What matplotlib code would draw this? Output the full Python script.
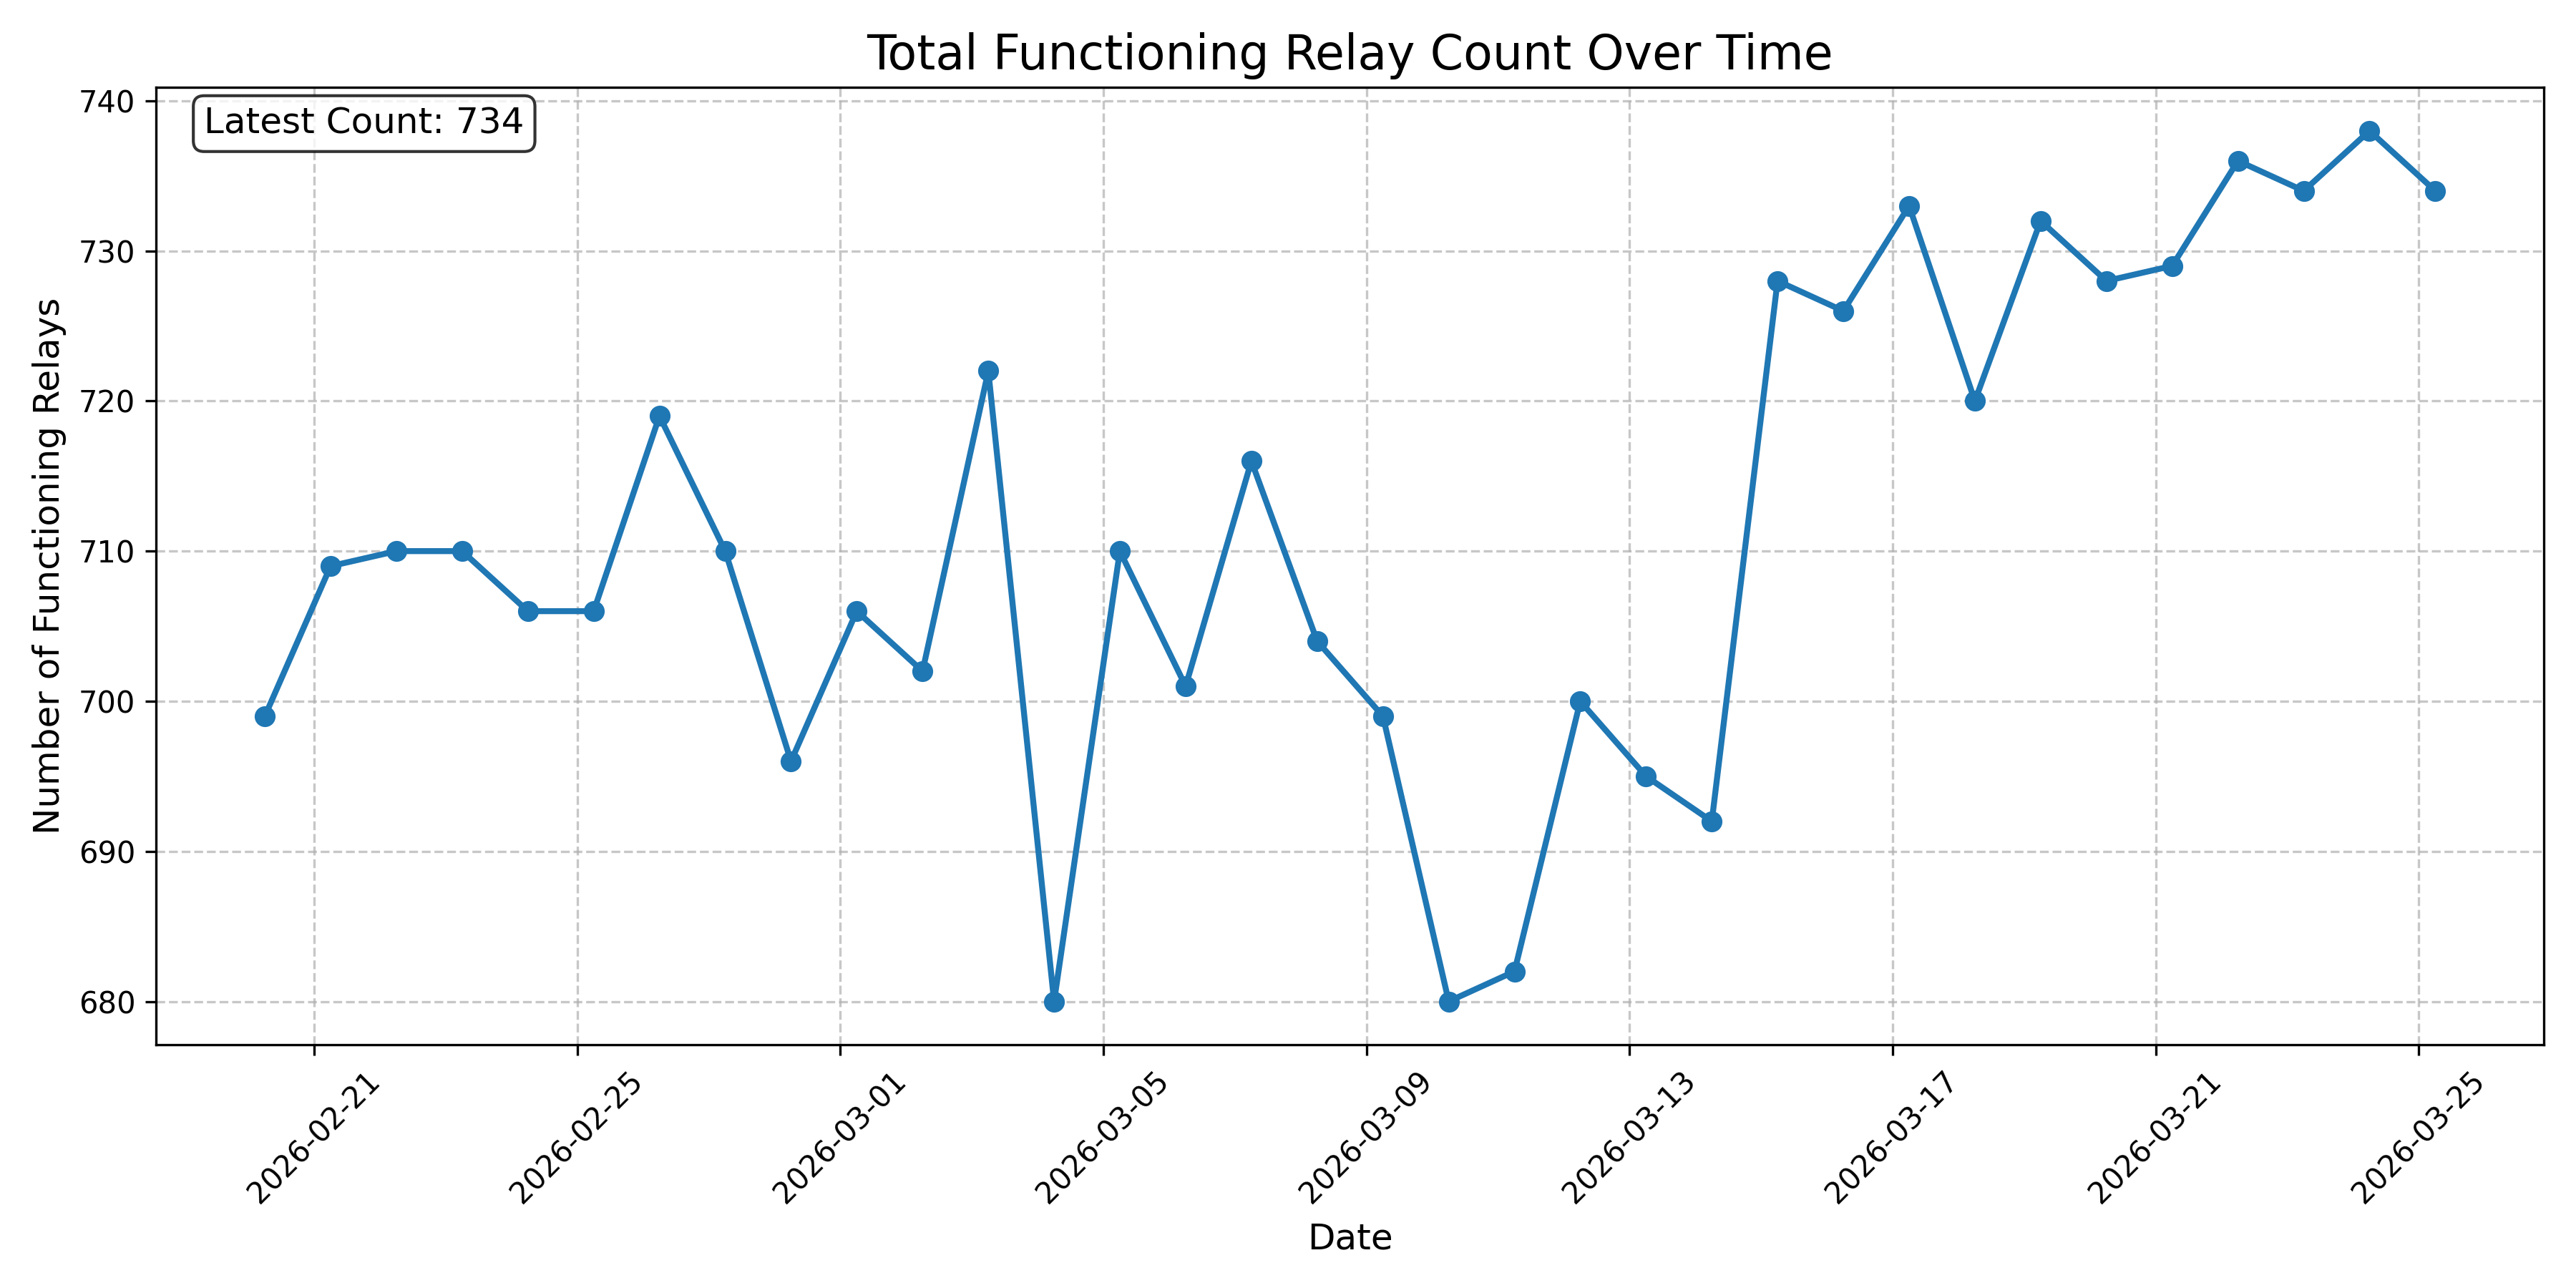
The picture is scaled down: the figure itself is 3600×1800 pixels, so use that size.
import matplotlib
matplotlib.use("Agg")
import matplotlib.pyplot as plt
import matplotlib.dates as mdates
import pandas as pd

dates = pd.date_range("2026-02-20 06:00", "2026-03-25 06:00", freq="D")
counts = [699, 709, 710, 710, 706, 706, 719, 710, 696, 706, 702, 722, 680, 710,
          701, 716, 704, 699, 680, 682, 700, 695, 692, 728, 726, 733, 720, 732,
          728, 729, 736, 734, 738, 734]

fig, ax = plt.subplots(figsize=(12, 6), dpi=300)
ax.plot(dates, counts, marker="o", linestyle="-", linewidth=2, markersize=6, color="#1f77b4")
ax.set_title("Total Functioning Relay Count Over Time", fontsize=16)
ax.set_xlabel("Date", fontsize=12)
ax.set_ylabel("Number of Functioning Relays", fontsize=12)
ax.grid(True, linestyle="--", alpha=0.7)
ax.xaxis.set_major_formatter(mdates.DateFormatter("%Y-%m-%d"))
plt.setp(ax.get_xticklabels(), rotation=45)
ax.text(0.02, 0.98, f"Latest Count: {counts[-1]}", transform=ax.transAxes, fontsize=12,
        va="top", bbox=dict(boxstyle="round", facecolor="white", alpha=0.8))
plt.tight_layout()
plt.savefig("out.png")
